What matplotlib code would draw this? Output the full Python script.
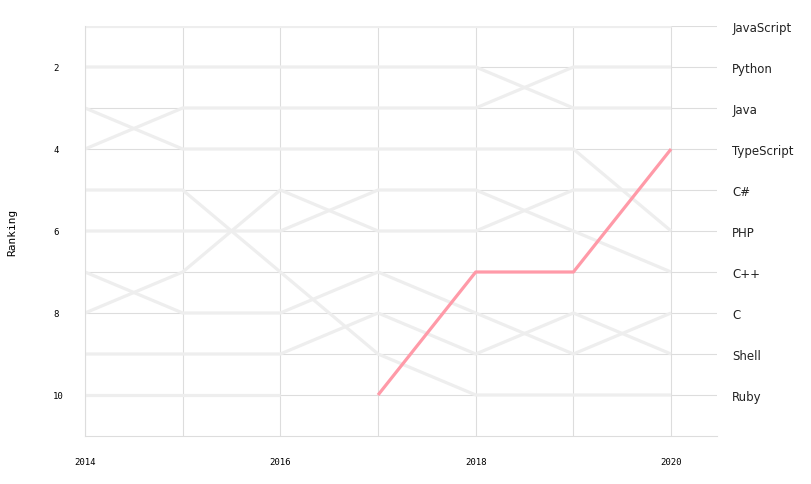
import matplotlib
matplotlib.use("Agg")
import matplotlib.pyplot as plt

years = [2014, 2015, 2016, 2017, 2018, 2019, 2020]

# ranking per year, None = not in the top ten
javascript = [1, 1, 1, 1, 1, 1, 1]
python = [4, 3, 3, 3, 3, 2, 2]
java = [2, 2, 2, 2, 2, 3, 3]
typescript = [None, None, None, 10, 7, 7, 4]
csharp = [8, 7, 5, 6, 6, 5, 5]
php = [3, 4, 4, 4, 4, 4, 6]
cpp = [6, 6, 6, 5, 5, 6, 7]
c = [7, 8, 8, 7, 8, 9, 8]
shell = [9, 9, 9, 8, 9, 8, 9]
ruby = [5, 5, 7, 9, 10, 10, 10]
objective_c = [10, 10, 10, None, None, None, None]

series = {
    "JavaScript": javascript,
    "Python": python,
    "Java": java,
    "TypeScript": typescript,
    "C#": csharp,
    "PHP": php,
    "C++": cpp,
    "C": c,
    "Shell": shell,
    "Ruby": ruby,
    "Objective-C": objective_c,
}
highlight = "TypeScript"
right_labels = ["JavaScript", "Python", "Java", "TypeScript", "C#",
                "PHP", "C++", "C", "Shell", "Ruby"]

fig = plt.figure(figsize=(8.12, 4.85), dpi=100)
ax = fig.add_axes([85 / 812, 1 - 437 / 485, (717 - 85) / 812, (437 - 27) / 485])

for name, ranks in series.items():
    xs = [y for y, r in zip(years, ranks) if r is not None]
    ys = [r for r in ranks if r is not None]
    if name == highlight:
        continue
    ax.plot(xs, ys, color="#eeeeee", lw=2.3, solid_capstyle="butt", zorder=2)

ranks = series[highlight]
ax.plot([y for y, r in zip(years, ranks) if r is not None],
        [r for r in ranks if r is not None],
        color="#ff9aa8", lw=2.3, solid_capstyle="butt", zorder=3)

ax.set_xlim(2014, 2020.47)
ax.set_ylim(11, 1)

ax.set_xticks(years)
ax.set_xticklabels([str(y) if y % 2 == 0 else "" for y in years])
ax.set_yticks(range(1, 11))
ax.set_yticklabels([str(r) if r % 2 == 0 else "" for r in range(1, 11)])
ax.tick_params(length=0, labelsize=6.5, colors="#000000")
ax.tick_params(axis="y", pad=23)
ax.tick_params(axis="x", pad=15)
for lab in ax.get_xticklabels() + ax.get_yticklabels():
    lab.set_family("DejaVu Sans Mono")
for lab in ax.get_yticklabels():
    lab.set_horizontalalignment("left")

ax.grid(True, color="#dddddd", lw=0.8, zorder=0)
ax.set_axisbelow(True)
for side in ["top", "right"]:
    ax.spines[side].set_visible(False)
for side in ["left", "bottom"]:
    ax.spines[side].set_color("#dddddd")
    ax.spines[side].set_linewidth(0.8)

ax.set_ylabel("Ranking", family="DejaVu Sans Mono", fontsize=8, labelpad=26)

ax2 = ax.twinx()
ax2.set_ylim(11, 1)
ax2.set_yticks(range(1, 11))
ax2.set_yticklabels(right_labels, fontsize=8.5, family="DejaVu Sans", color="#222222")
ax2.tick_params(length=0, pad=11)
for side in ["top", "right", "left", "bottom"]:
    ax2.spines[side].set_visible(False)

fig.savefig("out.png", dpi=100)
